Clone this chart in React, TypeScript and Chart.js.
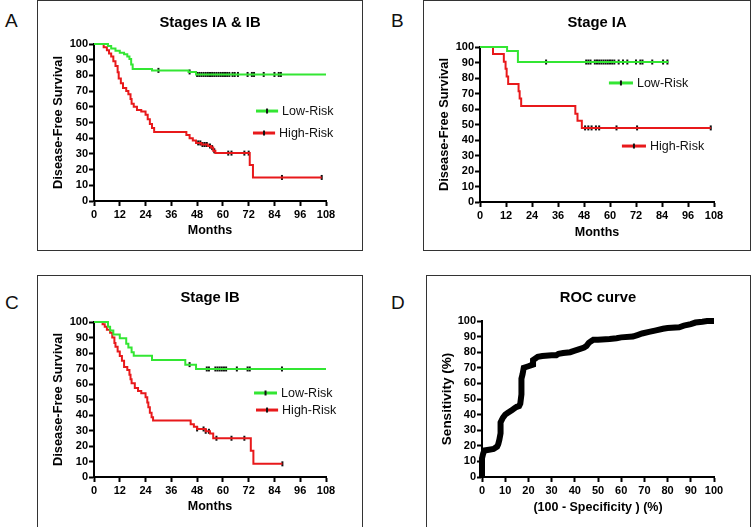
import React, { useEffect, useRef } from 'react';
import { Chart, registerables } from 'chart.js';

Chart.register(...registerables);

// ---------- Data ----------
// Panel A: Stages IA & IB
const aLowT = [6.5, 8, 10, 12, 14, 15.5, 16.5, 17.3, 18, 27, 44, 47.5];
const aLowS = [98.8, 97.2, 95.7, 94.5, 93.5, 92, 90.5, 87, 84, 83.2, 82.2, 80.6];
const aLowCens = [30, 44.5, 48, 49, 50, 51, 52, 53, 54, 55, 56, 57, 58, 59, 60, 61, 62, 63, 64.5, 65.5, 67, 71.5, 73.5, 74.5, 79, 84, 86, 87];
const aLowEnd = 108;
const aHighT = [4.5, 6, 7, 8, 9, 10, 11, 11.5, 12.5, 13.5, 15, 16, 17, 17.5, 18.5, 20, 22, 24, 25, 26, 27, 28, 43, 44.5, 46, 47.5, 50, 53, 54.5, 55.5, 56.5, 72.5, 74];
const aHighS = [98, 96, 94, 92, 89, 86, 82, 78, 75, 72, 70, 68, 65, 62, 60, 58, 57, 55, 52, 49, 46.5, 44, 42, 40, 38.5, 37, 36, 35, 34, 32, 30.5, 23, 15];
const aHighCens = [48.5, 49.5, 50.5, 51.5, 52.5, 54, 55, 56, 62.5, 64, 70, 72, 87.5, 106];
const aHighEnd = 106;

// Panel B: Stage IA
const bLowT = [12.5, 17.5];
const bLowS = [97.5, 90.3];
const bLowCens = [30.5, 49, 50, 51, 53, 54, 55, 56, 57, 58, 59, 60, 61, 62, 64, 66, 68, 72, 74, 75, 79.5, 84.5, 86.5];
const bLowEnd = 87;
const bHighT = [6, 11, 11.8, 12.3, 13, 17.8, 18.3, 19, 44, 45, 47];
const bHighS = [95.5, 90.5, 86, 81, 76.2, 71.4, 66.7, 62, 57, 52.4, 47.8];
const bHighCens = [48.5, 50, 51.5, 53.5, 55, 63, 72.5, 106.5];
const bHighEnd = 106.5;

// Panel C: Stage IB
const cLowT = [6.5, 7.5, 9, 12, 15, 16, 17.5, 18.5, 27, 42.5, 47.5];
const cLowS = [97, 94.5, 92, 89.5, 86, 83.5, 80.5, 78.3, 75.5, 72.5, 69.7];
const cLowCens = [44.5, 52.5, 53.5, 56.5, 57.5, 58.5, 59.5, 60.5, 61.5, 66.5, 71.5, 72.5, 87.5];
const cLowEnd = 108;
const cHighT = [4, 5, 6, 7.5, 8.5, 9.5, 10, 11, 12, 13, 14, 15.5, 16.5, 17, 17.5, 19, 20.5, 22, 24, 24.8, 25.3, 26, 26.8, 27.5, 45, 46.5, 48, 52, 54, 55.5, 73, 74.2];
const cHighS = [98.5, 97, 95, 93, 90, 86.5, 84, 81, 78, 75, 71, 69, 66, 63, 60.5, 57.5, 55.5, 54, 51.5, 48, 45, 41.5, 38.5, 36.5, 34, 32.5, 31, 29.5, 28, 25, 17, 8.5];
const cHighCens = [48, 51, 52, 53.5, 57, 64, 70, 87.7];
const cHighEnd = 87.7;

// Panel D: ROC curve
const rocFpr = [0, 0, 0.5, 1, 3, 5, 6.5, 7, 7.5, 8, 8, 9, 10, 11, 12, 13, 14, 15, 16, 16.5, 17, 17, 17.5, 18, 19, 20, 21, 22, 22, 23, 24, 26, 30, 32, 33, 35, 38, 40, 42, 44, 45, 46, 47, 48, 50, 55, 58, 60, 65, 67, 69, 72, 75, 78, 80, 85, 87, 90, 92, 95, 97, 100];
const rocSens = [0, 12, 15, 17, 17.5, 18, 19.5, 21, 24, 28, 35, 38, 40, 41, 42, 43, 44, 45, 45.5, 47, 53, 63, 66, 70, 70.5, 71, 71.5, 72, 75, 76, 77, 77.5, 78, 78, 79, 79.5, 80, 81, 82, 83, 84, 86, 87, 88, 88, 88.5, 89, 89.5, 90, 91, 92, 93, 94, 95, 95.5, 96, 97, 98, 99, 99.5, 100, 100];

const legendLabels = ['Low-Risk', 'High-Risk'];
const GREEN = '#33e633';
const RED = '#e8191b';
const FONT = '"Liberation Sans", Arial, Helvetica, sans-serif';

// ---------- helpers ----------
function kmPoints(times: number[], surv: number[], end: number) {
  const pts: { x: number; y: number }[] = [{ x: 0, y: 100 }];
  let prev = 100;
  times.forEach((t, i) => {
    pts.push({ x: t, y: prev });
    pts.push({ x: t, y: surv[i] });
    prev = surv[i];
  });
  pts.push({ x: end, y: prev });
  return pts;
}
function survAt(times: number[], surv: number[], t: number) {
  let s = 100;
  times.forEach((tt, i) => { if (tt <= t) s = surv[i]; });
  return s;
}
function censorPoints(times: number[], surv: number[], cens: number[]) {
  return cens.map((c) => ({ x: c, y: survAt(times, surv, c) }));
}

type LegendItem = { label: string; color: string; x0: number; x1: number; y: number };

function makeLegendPlugin(items: LegendItem[]) {
  return {
    id: 'kmLegend',
    afterDatasetsDraw(chart: any) {
      if (!items.length) return;
      const { ctx } = chart;
      const xs = chart.scales.x;
      const ys = chart.scales.y;
      ctx.save();
      items.forEach((it) => {
        const p0 = xs.getPixelForValue(it.x0);
        const p1 = xs.getPixelForValue(it.x1);
        const py = ys.getPixelForValue(it.y);
        ctx.strokeStyle = it.color;
        ctx.lineWidth = 3;
        ctx.beginPath();
        ctx.moveTo(p0, py);
        ctx.lineTo(p1, py);
        ctx.stroke();
        ctx.fillStyle = '#111';
        const mid = (p0 + p1) / 2;
        ctx.fillRect(mid - 1, py - 2.5, 2, 5);
        ctx.font = '12.5px ' + FONT;
        ctx.textAlign = 'left';
        ctx.textBaseline = 'middle';
        ctx.fillText(it.label, p1 + 4, py + 0.5);
      });
      ctx.restore();
    },
  };
}

type Spec = {
  left: number; top: number; w: number; h: number;
  areaL: number; areaT: number; areaR: number; areaB: number;
  title: string; xTitle: string; yTitle: string;
  xMax: number; xStep: number;
  xTitleCenter: number; yTitleCenter: number; yTitleSize: number;
  datasets: any[];
  legend: LegendItem[];
};

function Panel({ spec }: { spec: Spec }) {
  const ref = useRef<HTMLCanvasElement>(null);
  useEffect(() => {
    if (!ref.current) return;
    const titleSize = 14.8;
    const tlh = titleSize * 1.2;
    const titleCenter = 23;
    const xTitleSize = 12.5;
    const xlh = xTitleSize * 1.2;
    const ylh = spec.yTitleSize * 1.2;
    const yW = spec.areaL;
    const xH = spec.h - spec.areaB;
    const chart = new Chart(ref.current, {
      type: 'line',
      data: { datasets: spec.datasets },
      plugins: [makeLegendPlugin(spec.legend)],
      options: {
        animation: false,
        responsive: false,
        devicePixelRatio: 1,
        layout: { padding: { left: 0, top: 0, right: spec.w - spec.areaR, bottom: 0 } },
        plugins: {
          legend: { display: false },
          tooltip: { enabled: false },
          title: {
            display: true,
            text: spec.title,
            fullSize: false,
            color: '#000',
            font: { family: FONT, size: titleSize, weight: 'bold', lineHeight: 1.2 },
            padding: { top: titleCenter - tlh / 2, bottom: spec.areaT - titleCenter - tlh / 2 },
          },
        },
        scales: {
          x: {
            type: 'linear',
            min: 0,
            max: spec.xMax,
            ticks: {
              stepSize: spec.xStep,
              autoSkip: false,
              maxRotation: 0,
              color: '#000',
              padding: 2,
              font: { family: FONT, size: 11, weight: 'bold' },
            },
            grid: { drawOnChartArea: false, drawTicks: true, tickLength: 5, tickWidth: 2, tickColor: '#000' },
            border: { display: true, color: '#000', width: 2 },
            title: {
              display: true,
              text: spec.xTitle,
              color: '#000',
              font: { family: FONT, size: xTitleSize, weight: 'bold', lineHeight: 1.2 },
              padding: { top: 0, bottom: spec.h - spec.xTitleCenter - xlh / 2 },
            },
            afterFit: (s: any) => { s.height = xH; },
          },
          y: {
            type: 'linear',
            min: 0,
            max: 100,
            ticks: {
              stepSize: 10,
              autoSkip: false,
              color: '#000',
              padding: 1,
              font: { family: FONT, size: 11, weight: 'bold' },
            },
            grid: { drawOnChartArea: false, drawTicks: true, tickLength: 5, tickWidth: 2, tickColor: '#000' },
            border: { display: true, color: '#000', width: 2 },
            title: {
              display: true,
              text: spec.yTitle,
              color: '#000',
              font: { family: FONT, size: spec.yTitleSize, weight: 'bold', lineHeight: 1.2 },
              padding: { top: spec.yTitleCenter - ylh / 2, bottom: 0 },
            },
            afterFit: (s: any) => { s.width = yW; },
          },
        },
      } as any,
    });
    return () => chart.destroy();
  }, [spec]);
  return (
    <canvas
      ref={ref}
      width={spec.w}
      height={spec.h}
      style={{ position: 'absolute', left: spec.left, top: spec.top, width: spec.w, height: spec.h, display: 'block' }}
    />
  );
}

function kmDatasets(lowT: number[], lowS: number[], lowEnd: number, lowC: number[], highT: number[], highS: number[], highEnd: number, highC: number[]) {
  const line = (data: any, color: string) => ({
    data, borderColor: color, backgroundColor: color, borderWidth: 2, pointRadius: 0, tension: 0, fill: false, clip: 4,
  });
  const cens = (data: any) => ({
    data, showLine: false, pointStyle: 'line', rotation: 90, pointRadius: 2.5, pointBorderWidth: 2,
    pointBorderColor: '#111', borderColor: '#111', clip: 4,
  });
  return [
    line(kmPoints(lowT, lowS, lowEnd), GREEN),
    line(kmPoints(highT, highS, highEnd), RED),
    cens(censorPoints(lowT, lowS, lowC)),
    cens(censorPoints(highT, highS, highC)),
  ];
}

const specA: Spec = {
  left: 37, top: 0, w: 325, h: 250, areaL: 57, areaT: 44, areaR: 289, areaB: 201,
  title: 'Stages IA & IB', xTitle: 'Months', yTitle: 'Disease-Free Survival',
  xMax: 108, xStep: 12, xTitleCenter: 231, yTitleCenter: 21, yTitleSize: 12.8,
  datasets: kmDatasets(aLowT, aLowS, aLowEnd, aLowCens, aHighT, aHighS, aHighEnd, aHighCens),
  legend: [
    { label: legendLabels[0], color: GREEN, x0: 75.4, x1: 85.7, y: 57.3 },
    { label: legendLabels[1], color: RED, x0: 74, x1: 84.3, y: 43.3 },
  ],
};
const specB: Spec = {
  left: 423, top: 0, w: 327, h: 250, areaL: 57, areaT: 47, areaR: 291, areaB: 202,
  title: 'Stage IA', xTitle: 'Months', yTitle: 'Disease-Free Survival',
  xMax: 108, xStep: 12, xTitleCenter: 233, yTitleCenter: 21, yTitleSize: 12.8,
  datasets: kmDatasets(bLowT, bLowS, bLowEnd, bLowCens, bHighT, bHighS, bHighEnd, bHighCens),
  legend: [
    { label: legendLabels[0], color: GREEN, x0: 59.5, x1: 70.6, y: 76.8 },
    { label: legendLabels[1], color: RED, x0: 65.5, x1: 76.6, y: 36.1 },
  ],
};
const specC: Spec = {
  left: 37, top: 275, w: 325, h: 252, areaL: 57, areaT: 47, areaR: 289, areaB: 202,
  title: 'Stage IB', xTitle: 'Months', yTitle: 'Disease-Free Survival',
  xMax: 108, xStep: 12, xTitleCenter: 232, yTitleCenter: 21, yTitleSize: 12.8,
  datasets: kmDatasets(cLowT, cLowS, cLowEnd, cLowCens, cHighT, cHighS, cHighEnd, cHighCens),
  legend: [
    { label: legendLabels[0], color: GREEN, x0: 74.5, x1: 85.2, y: 54.2 },
    { label: legendLabels[1], color: RED, x0: 75.4, x1: 85.7, y: 43.2 },
  ],
};
const specD: Spec = {
  left: 426, top: 275, w: 324, h: 252, areaL: 56, areaT: 46, areaR: 288, areaB: 202,
  title: 'ROC curve', xTitle: '(100 - Specificity ) (%)', yTitle: 'Sensitivity (%)',
  xMax: 100, xStep: 10, xTitleCenter: 233, yTitleCenter: 21, yTitleSize: 13.5,
  datasets: [
    {
      data: rocFpr.map((f, i) => ({ x: f, y: rocSens[i] })),
      borderColor: '#000', backgroundColor: '#000', borderWidth: 6, pointRadius: 0, tension: 0,
      fill: false, clip: 6, borderJoinStyle: 'miter', borderCapStyle: 'butt',
    },
  ],
  legend: [],
};

const boxes = [
  { left: 37, top: 0, width: 326, height: 251 },
  { left: 423, top: 0, width: 328, height: 251 },
  { left: 37, top: 275, width: 326, height: 253 },
  { left: 426, top: 275, width: 325, height: 253 },
];
const letters = [
  { t: 'A', left: 5, top: 11 },
  { t: 'B', left: 391, top: 11 },
  { t: 'C', left: 5, top: 293 },
  { t: 'D', left: 391, top: 293 },
];

export default function App() {
  return (
    <div style={{ position: 'fixed', left: 0, top: 0, width: 751, height: 527, background: '#fff', overflow: 'hidden' }}>
      {boxes.map((b, i) => (
        <div key={i} style={{ position: 'absolute', left: b.left, top: b.top, width: b.width, height: b.height, border: '1px solid #333', boxSizing: 'border-box' }} />
      ))}
      {letters.map((l) => (
        <div key={l.t} style={{ position: 'absolute', left: l.left, top: l.top, fontFamily: FONT, fontSize: 19, lineHeight: '19px', color: '#111' }}>{l.t}</div>
      ))}
      <Panel spec={specA} />
      <Panel spec={specB} />
      <Panel spec={specC} />
      <Panel spec={specD} />
    </div>
  );
}
